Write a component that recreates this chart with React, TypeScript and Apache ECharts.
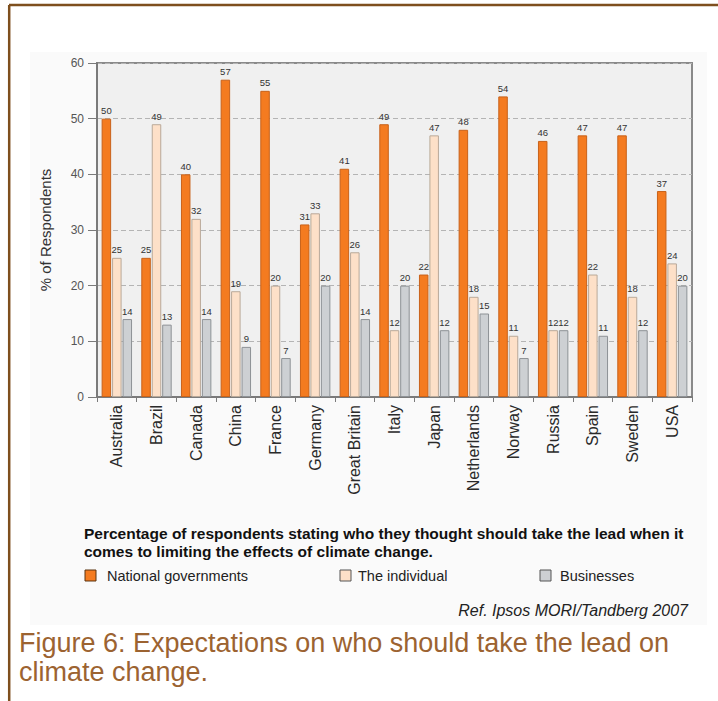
import React, { useEffect, useRef } from "react";
import * as echarts from "echarts";

// Survey results: who should take the lead on limiting climate change (%)
const countries = [
  "Australia", "Brazil", "Canada", "China", "France", "Germany", "Great Britain",
  "Italy", "Japan", "Netherlands", "Norway", "Russia", "Spain", "Sweden", "USA",
];
const nationalGovernments = [50, 25, 40, 57, 55, 31, 41, 49, 22, 48, 54, 46, 47, 47, 37];
const theIndividual = [25, 49, 32, 19, 20, 33, 26, 12, 47, 18, 11, 12, 22, 18, 24];
const businesses = [14, 13, 14, 9, 7, 20, 14, 20, 12, 15, 7, 12, 11, 12, 20];

const seriesNames = ["National governments", "The individual", "Businesses"];
const yMin = 0;
const yMax = 60;
const yStep = 10;

const captionLines = [
  "Percentage of respondents stating who they thought should take the lead when it",
  "comes to limiting the effects of climate change.",
];
const sourceNote = "Ref. Ipsos MORI/Tandberg 2007";
const figureLines = [
  "Figure 6: Expectations on who should take the lead on",
  "climate change.",
];

const FONT = "'Liberation Sans', Arial, Helvetica, sans-serif";
const fills = ["#f47b20", "#fde0c8", "#cdd0d3"];
const borders = ["#c8621a", "#b9a999", "#8e9296"];
const brown = "#7e4f1e";
const captionBrown = "#9c6331";

export default function App() {
  const ref = useRef<HTMLDivElement>(null);

  useEffect(() => {
    if (!ref.current) return;
    const chart = echarts.init(ref.current, undefined, { renderer: "svg" });

    const values = [nationalGovernments, theIndividual, businesses];

    // hand-placed legend row under the caption
    const swatchX = [85, 340, 540];
    const labelX = [107, 358, 560];
    const legendGraphics: any[] = [];
    seriesNames.forEach((name, i) => {
      legendGraphics.push({
        type: "rect",
        shape: { x: swatchX[i], y: 570, width: 11, height: 11 },
        style: { fill: fills[i], stroke: i === 0 ? "#5a3410" : "#555", lineWidth: 1 },
      });
      legendGraphics.push({
        type: "text",
        x: labelX[i],
        y: 576,
        style: {
          text: name,
          fill: "#222",
          font: `14.5px ${FONT}`,
          verticalAlign: "middle",
        },
      });
    });

    chart.setOption({
      animation: false,
      backgroundColor: "#ffffff",
      grid: {
        left: 97,
        right: 26,
        top: 63,
        bottom: 304,
        show: true,
        backgroundColor: "#f0f0f0",
        borderColor: "#8a8a8a",
        borderWidth: 2,
      },
      xAxis: {
        type: "category",
        data: countries,
        boundaryGap: true,
        axisLine: { show: true, lineStyle: { color: "#7a7a7a", width: 2 } },
        axisTick: { show: true, length: 5, lineStyle: { color: "#7a7a7a" } },
        axisLabel: {
          rotate: 90,
          margin: 8,
          fontSize: 16,
          color: "#2a2a2a",
          fontFamily: FONT,
        },
      },
      yAxis: {
        type: "value",
        min: yMin,
        max: yMax,
        interval: yStep,
        name: "% of Respondents",
        nameLocation: "middle",
        nameGap: 44,
        nameRotate: 90,
        nameTextStyle: { fontSize: 15, color: "#333", fontFamily: FONT },
        axisLine: { show: true, lineStyle: { color: "#7a7a7a", width: 2 } },
        axisTick: { show: true, length: 9, lineStyle: { color: "#7a7a7a" } },
        axisLabel: { margin: 13, fontSize: 12, color: "#555", fontFamily: FONT },
        splitLine: {
          show: true,
          lineStyle: { color: "#b4b4b4", type: [5, 3], width: 1 },
        },
      },
      series: seriesNames.map((name, i) => ({
        type: "bar",
        name,
        data: values[i],
        barWidth: 9.5,
        barGap: "10%",
        itemStyle: { color: fills[i], borderColor: borders[i], borderWidth: 1 },
        label: {
          show: true,
          position: "top",
          distance: 3,
          fontSize: 9.5,
          color: "#333",
          fontFamily: FONT,
        },
      })),
      graphic: [
        // page frame
        {
          type: "line",
          shape: { x1: 9, y1: 5, x2: 718, y2: 5 },
          style: { stroke: brown, lineWidth: 2.5 },
        },
        {
          type: "line",
          shape: { x1: 9.2, y1: 5, x2: 9.2, y2: 701 },
          style: { stroke: brown, lineWidth: 2.5 },
          z: -1,
        },
        {
          type: "rect",
          shape: { x: 30, y: 52, width: 677, height: 573 },
          style: { fill: "#fafafa" },
          z: -10,
          silent: true,
        },
        ...captionLines.map((t, i) => ({
          type: "text",
          x: 84,
          y: 533 + i * 18,
          style: {
            text: t,
            fill: "#111",
            font: `bold 15.5px ${FONT}`,
            verticalAlign: "middle",
          },
        })),
        ...legendGraphics,
        {
          type: "text",
          x: 688,
          y: 610,
          style: {
            text: sourceNote,
            fill: "#222",
            font: `italic 16px ${FONT}`,
            align: "right",
            verticalAlign: "middle",
          },
        },
        ...figureLines.map((t, i) => ({
          type: "text",
          x: 19,
          y: 643 + i * 29,
          style: {
            text: t,
            fill: captionBrown,
            font: `27px ${FONT}`,
            verticalAlign: "middle",
          },
        })),
      ],
    });

    return () => chart.dispose();
  }, []);

  return (
    <div
      ref={ref}
      style={{ position: "fixed", left: 0, top: 0, width: 718, height: 701 }}
    />
  );
}
